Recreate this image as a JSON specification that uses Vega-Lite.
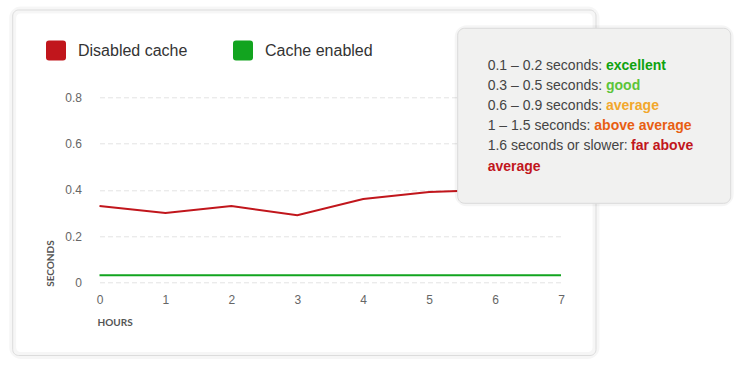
{
  "$schema": "https://vega.github.io/schema/vega-lite/v6.json",
  "width": 461.5,
  "height": 185,
  "autosize": {"type": "none"},
  "padding": {"left": 99.5, "top": 97.3, "right": 183, "bottom": 89.7},
  "background": "#ffffff",
  "config": {
    "view": {"stroke": null},
    "font": "Liberation Sans",
    "axis": {
      "gridColor": "#e3e3e3",
      "gridDash": [5, 3],
      "gridWidth": 1,
      "domain": false,
      "ticks": false,
      "tickSize": 0,
      "labelFlush": false,
      "labelFont": "Liberation Sans",
      "labelFontSize": 12,
      "labelColor": "#666666",
      "titleFont": "Lato",
      "titleFontSize": 10,
      "titleFontWeight": "bold",
      "titleColor": "#555555"
    }
  },
  "datasets": {
    "timing": [
      {"hour": 0, "series": "Disabled cache", "seconds": 0.33},
      {"hour": 1, "series": "Disabled cache", "seconds": 0.30},
      {"hour": 2, "series": "Disabled cache", "seconds": 0.33},
      {"hour": 3, "series": "Disabled cache", "seconds": 0.29},
      {"hour": 4, "series": "Disabled cache", "seconds": 0.36},
      {"hour": 5, "series": "Disabled cache", "seconds": 0.39},
      {"hour": 6, "series": "Disabled cache", "seconds": 0.40},
      {"hour": 7, "series": "Disabled cache", "seconds": 0.42},
      {"hour": 0, "series": "Cache enabled", "seconds": 0.03},
      {"hour": 1, "series": "Cache enabled", "seconds": 0.03},
      {"hour": 2, "series": "Cache enabled", "seconds": 0.03},
      {"hour": 3, "series": "Cache enabled", "seconds": 0.03},
      {"hour": 4, "series": "Cache enabled", "seconds": 0.03},
      {"hour": 5, "series": "Cache enabled", "seconds": 0.03},
      {"hour": 6, "series": "Cache enabled", "seconds": 0.03},
      {"hour": 7, "series": "Cache enabled", "seconds": 0.03}
    ],
    "notes": [
      {"line": 1, "range": "0.1 – 0.2 seconds:", "rating": "excellent", "level": "excellent"},
      {"line": 2, "range": "0.3 – 0.5 seconds:", "rating": "good", "level": "good"},
      {"line": 3, "range": "0.6 – 0.9 seconds:", "rating": "average", "level": "average"},
      {"line": 4, "range": "1 – 1.5 seconds:", "rating": "above average", "level": "above average"},
      {"line": 5, "range": "1.6 seconds or slower:", "rating": "far above", "level": "far above average"},
      {"line": 6, "range": "", "rating": "average", "level": "far above average"}
    ]
  },
  "layer": [
    {
      "layer": [
        {
          "data": {"values": [{}]},
          "mark": {"type": "rect", "clip": false, "fill": null, "stroke": "#000000", "strokeOpacity": 0.035, "strokeWidth": 7, "cornerRadius": 8},
          "encoding": {
            "x": {"datum": -1.3166, "type": "quantitative", "scale": {"domain": [0, 7], "nice": false, "zero": false}},
            "x2": {"datum": 7.5307},
            "y": {"datum": 1.1775, "type": "quantitative", "scale": {"domain": [0, 0.8], "nice": false, "zero": false}},
            "y2": {"datum": -0.3165}
          }
        },
        {
          "data": {"values": [{}]},
          "mark": {"type": "rect", "clip": false, "fill": null, "stroke": "#dcdcdc", "strokeWidth": 1, "cornerRadius": 6},
          "encoding": {
            "x": {"datum": -1.3166, "type": "quantitative", "scale": {"domain": [0, 7], "nice": false, "zero": false}},
            "x2": {"datum": 7.5307},
            "y": {"datum": 1.1775, "type": "quantitative", "scale": {"domain": [0, 0.8], "nice": false, "zero": false}},
            "y2": {"datum": -0.3165}
          }
        },
        {
          "data": {"name": "timing"},
          "mark": {"type": "line", "strokeWidth": 2},
          "encoding": {
            "x": {
              "field": "hour", "type": "quantitative",
              "scale": {"domain": [0, 7], "nice": false, "zero": false},
              "axis": {
                "values": [0, 1, 2, 3, 4, 5, 6, 7],
                "format": "d",
                "grid": false,
                "title": "HOURS",
                "labelPadding": 12,
                "titleAlign": "left",
                "titleBaseline": "middle",
                "titleAnchor": "start",
                "titleX": -2.5,
                "titleY": 40
              }
            },
            "y": {
              "field": "seconds", "type": "quantitative",
              "scale": {"domain": [0, 0.8], "nice": false, "zero": false},
              "axis": {
                "values": [0, 0.2, 0.4, 0.6, 0.8],
                "format": "~g",
                "grid": true,
                "title": "SECONDS",
                "labelPadding": 18,
                "titleAngle": 270,
                "titleAlign": "left",
                "titleBaseline": "middle",
                "titleX": -49.5,
                "titleY": 189
              }
            },
            "color": {
              "field": "series", "type": "nominal",
              "scale": {"domain": ["Disabled cache", "Cache enabled"], "range": ["#c1161c", "#12a41f"]},
              "legend": {
                "orient": "none",
                "legendX": -53.5,
                "legendY": -56.8,
                "direction": "horizontal",
                "title": null,
                "padding": 0,
                "labelFont": "Liberation Sans",
                "labelFontSize": 16,
                "labelColor": "#333333",
                "labelOffset": 12,
                "columnPadding": 45,
                "symbolSize": 400,
                "symbolType": "M -0.7 -1 L 0.7 -1 Q 1 -1 1 -0.7 L 1 0.7 Q 1 1 0.7 1 L -0.7 1 Q -1 1 -1 0.7 L -1 -0.7 Q -1 -1 -0.7 -1 Z",
                "symbolStrokeWidth": 0,
                "encode": {
                  "symbols": {
                    "update": {
                      "fill": {"scale": "color", "field": "value"},
                      "stroke": {"value": "transparent"},
                      "strokeWidth": {"value": 0},
                      "opacity": {"value": 1}
                    }
                  }
                }
              }
            }
          }
        },
        {
          "data": {"values": [{}]},
          "mark": {"type": "rect", "clip": false, "fill": null, "stroke": "#000000", "strokeOpacity": 0.04, "strokeWidth": 6, "cornerRadius": 9},
          "encoding": {
            "x": {"datum": 5.433, "type": "quantitative", "scale": {"domain": [0, 7], "nice": false, "zero": false}},
            "x2": {"datum": 9.574},
            "y": {"datum": 1.0984, "type": "quantitative", "scale": {"domain": [0, 0.8], "nice": false, "zero": false}},
            "y2": {"datum": 0.3416}
          }
        },
        {
          "data": {"values": [{}]},
          "mark": {"type": "rect", "clip": false, "fill": "#f1f1f0", "stroke": "#dadada", "strokeWidth": 1, "cornerRadius": 7},
          "encoding": {
            "x": {"datum": 5.433, "type": "quantitative", "scale": {"domain": [0, 7], "nice": false, "zero": false}},
            "x2": {"datum": 9.574},
            "y": {"datum": 1.0984, "type": "quantitative", "scale": {"domain": [0, 0.8], "nice": false, "zero": false}},
            "y2": {"datum": 0.3416}
          }
        }
      ]
    },
    {
      "data": {"name": "notes"},
      "layer": [
        {
          "mark": {"type": "text", "align": "left", "baseline": "middle", "fontSize": 14, "font": "Liberation Sans", "color": "#444444", "clip": false},
          "encoding": {
            "x": {"datum": 5.888, "type": "quantitative", "scale": {"domain": [0, 7], "nice": false, "zero": false}},
            "y": {"field": "line", "type": "quantitative", "scale": {"domain": [2.5644, 11.7228], "reverse": true, "nice": false, "zero": false}, "axis": null},
            "text": {"field": "range"}
          }
        },
        {
          "transform": [{"filter": "datum.line <= 3"}],
          "mark": {"type": "text", "align": "left", "baseline": "middle", "fontSize": 14, "font": "Liberation Sans", "fontWeight": "bold", "dx": 118.3, "clip": false},
          "encoding": {
            "x": {"datum": 5.888, "type": "quantitative", "scale": {"domain": [0, 7], "nice": false, "zero": false}},
            "y": {"field": "line", "type": "quantitative", "scale": {"domain": [2.5644, 11.7228], "reverse": true, "nice": false, "zero": false}, "axis": null},
            "text": {"field": "rating"},
            "fill": {"field": "level", "type": "nominal", "scale": {"domain": ["excellent", "good", "average", "above average", "far above average"], "range": ["#0fa30f", "#5cc43a", "#f2a72c", "#e85e12", "#c1161c"]}, "legend": null}
          }
        },
        {
          "transform": [{"filter": "datum.line == 4"}],
          "mark": {"type": "text", "align": "left", "baseline": "middle", "fontSize": 14, "font": "Liberation Sans", "fontWeight": "bold", "dx": 106.6, "clip": false},
          "encoding": {
            "x": {"datum": 5.888, "type": "quantitative", "scale": {"domain": [0, 7], "nice": false, "zero": false}},
            "y": {"field": "line", "type": "quantitative", "scale": {"domain": [2.5644, 11.7228], "reverse": true, "nice": false, "zero": false}, "axis": null},
            "text": {"field": "rating"},
            "fill": {"field": "level", "type": "nominal", "scale": {"domain": ["excellent", "good", "average", "above average", "far above average"], "range": ["#0fa30f", "#5cc43a", "#f2a72c", "#e85e12", "#c1161c"]}, "legend": null}
          }
        },
        {
          "transform": [{"filter": "datum.line == 5"}],
          "mark": {"type": "text", "align": "left", "baseline": "middle", "fontSize": 14, "font": "Liberation Sans", "fontWeight": "bold", "dx": 143.3, "clip": false},
          "encoding": {
            "x": {"datum": 5.888, "type": "quantitative", "scale": {"domain": [0, 7], "nice": false, "zero": false}},
            "y": {"field": "line", "type": "quantitative", "scale": {"domain": [2.5644, 11.7228], "reverse": true, "nice": false, "zero": false}, "axis": null},
            "text": {"field": "rating"},
            "fill": {"field": "level", "type": "nominal", "scale": {"domain": ["excellent", "good", "average", "above average", "far above average"], "range": ["#0fa30f", "#5cc43a", "#f2a72c", "#e85e12", "#c1161c"]}, "legend": null}
          }
        },
        {
          "transform": [{"filter": "datum.line == 6"}],
          "mark": {"type": "text", "align": "left", "baseline": "middle", "fontSize": 14, "font": "Liberation Sans", "fontWeight": "bold", "dx": 0, "clip": false},
          "encoding": {
            "x": {"datum": 5.888, "type": "quantitative", "scale": {"domain": [0, 7], "nice": false, "zero": false}},
            "y": {"field": "line", "type": "quantitative", "scale": {"domain": [2.5644, 11.7228], "reverse": true, "nice": false, "zero": false}, "axis": null},
            "text": {"field": "rating"},
            "fill": {"field": "level", "type": "nominal", "scale": {"domain": ["excellent", "good", "average", "above average", "far above average"], "range": ["#0fa30f", "#5cc43a", "#f2a72c", "#e85e12", "#c1161c"]}, "legend": null}
          }
        }
      ]
    }
  ],
  "resolve": {"scale": {"y": "independent"}}
}
